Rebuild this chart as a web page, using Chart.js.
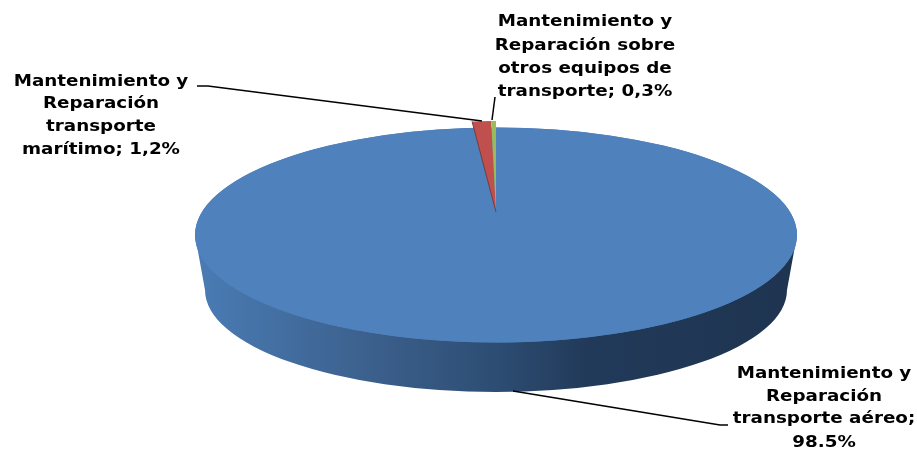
<!DOCTYPE html>
<html>
<head>
<meta charset="utf-8">
<title>Mantenimiento y Reparación</title>
<script src="https://cdn.jsdelivr.net/npm/chart.js@4"></script>
<style>
    html, body { margin: 0; padding: 0; background: #ffffff; overflow: hidden; }
    #wrap { position: relative; width: 917px; height: 449px; }
</style>
</head>
<body>
<div id="wrap"><canvas id="pieChart"></canvas></div>
<script>
const categories = [
    'Mantenimiento y Reparación transporte aéreo',
    'Mantenimiento y Reparación transporte marítimo',
    'Mantenimiento y Reparación sobre otros equipos de transporte'
];
const shares = [98.5, 1.2, 0.3];
const sliceColors = ['#4f81bd', '#c0504d', '#9bbb59'];
const labelLines = [
    ['Mantenimiento y', 'Reparación', 'transporte aéreo;', '98.5%'],
    ['Mantenimiento y', 'Reparación', 'transporte', 'marítimo; 1,2%'],
    ['Mantenimiento y', 'Reparación sobre', 'otros equipos de', 'transporte; 0,3%']
];

// Where each label block and its leader line sit on the page
const labelBoxes = [
    { x: 824, ys: [374, 397, 419, 443], leader: [[513, 391], [720, 425], [728, 425]] },
    { x: 101, ys: [82, 104, 127, 150], leader: [[197, 86], [208, 86], [482, 121]] },
    { x: 585, ys: [22, 46, 69, 92], leader: [[495, 97], [492, 120]] }
];

// Fake 3D: the library's round pie gets squashed into a tilted disc
const TOP_FACE = { rx: 301, ry: 107.5 };
const BOTTOM_FACE = { rx: 291, ry: 102, dy: 55 };
const WEDGE = { sx: 1.19, sy: 0.425, dy: -23 };
const TEXT_STRETCH = 1.11;

const pie3d = {
    id: 'pie3d',
    beforeDatasetsDraw(chart) {
        const ctx = chart.ctx;
        const arcs = chart.getDatasetMeta(0).data;
        const cx = arcs[0].x;
        const cy = arcs[0].y;
        const r = arcs[0].outerRadius;

        // side wall
        const wall = ctx.createLinearGradient(cx - TOP_FACE.rx, 0, cx + TOP_FACE.rx, 0);
        wall.addColorStop(0, '#4a7cb5');
        wall.addColorStop(0.3, '#3b5f8b');
        wall.addColorStop(0.5, '#2d4d73');
        wall.addColorStop(0.65, '#223a5a');
        wall.addColorStop(1, '#1e3450');
        ctx.save();
        ctx.beginPath();
        ctx.moveTo(cx + TOP_FACE.rx, cy);
        ctx.lineTo(cx + BOTTOM_FACE.rx, cy + BOTTOM_FACE.dy);
        ctx.ellipse(cx, cy + BOTTOM_FACE.dy, BOTTOM_FACE.rx, BOTTOM_FACE.ry, 0, 0, Math.PI);
        ctx.lineTo(cx - TOP_FACE.rx, cy);
        ctx.closePath();
        ctx.fillStyle = wall;
        ctx.fill();

        // top face behind the slices, so the gap of the big slice stays blue
        ctx.beginPath();
        ctx.ellipse(cx, cy, TOP_FACE.rx, TOP_FACE.ry, 0, 0, Math.PI * 2);
        ctx.fillStyle = sliceColors[0];
        ctx.fill();
        ctx.restore();

        arcs.forEach((arc, i) => {
            ctx.save();
            if (i === 0) {
                ctx.translate(cx, cy);
                ctx.scale(TOP_FACE.rx / r, TOP_FACE.ry / r);
            } else {
                // the thin slices converge further back, as in a perspective view
                ctx.translate(cx, cy + WEDGE.dy);
                ctx.scale(WEDGE.sx, WEDGE.sy);
            }
            ctx.translate(-cx, -cy);
            arc.draw(ctx);
            ctx.restore();
        });

        // dark cut edge down the left side of the red slice
        const edge = arcs[1].startAngle;
        ctx.save();
        ctx.beginPath();
        ctx.moveTo(cx, cy + WEDGE.dy);
        ctx.lineTo(cx + Math.cos(edge) * r * WEDGE.sx, cy + WEDGE.dy + Math.sin(edge) * r * WEDGE.sy);
        ctx.strokeStyle = '#7a3a3c';
        ctx.lineWidth = 1;
        ctx.stroke();
        ctx.restore();
        return false;
    },
    afterDraw(chart) {
        const ctx = chart.ctx;
        ctx.save();
        ctx.textAlign = 'center';
        ctx.textBaseline = 'middle';
        ctx.font = "bold 16.5px 'DejaVu Sans'";
        labelBoxes.forEach((box, i) => {
            labelLines[i].forEach((line, j) => {
                // the original text is wider than any installed bold face
                ctx.save();
                ctx.translate(box.x, box.ys[j]);
                ctx.scale(TEXT_STRETCH, 1);
                ctx.fillStyle = '#000000';
                ctx.fillText(line, 0, 0);
                ctx.restore();
            });
            ctx.beginPath();
            box.leader.forEach(([x, y], k) => (k ? ctx.lineTo(x, y) : ctx.moveTo(x, y)));
            ctx.strokeStyle = '#000000';
            ctx.lineWidth = 1.5;
            ctx.stroke();
        });
        ctx.restore();
    }
};

new Chart(document.getElementById('pieChart'), {
    type: 'pie',
    data: {
        labels: categories,
        datasets: [{
            data: shares,
            backgroundColor: sliceColors,
            borderWidth: 0
        }]
    },
    options: {
        responsive: true,
        maintainAspectRatio: false,
        animation: false,
        layout: { padding: { left: 75, top: 21 } },
        plugins: {
            legend: { display: false },
            tooltip: { enabled: false }
        }
    },
    plugins: [pie3d]
});
</script>
</body>
</html>
